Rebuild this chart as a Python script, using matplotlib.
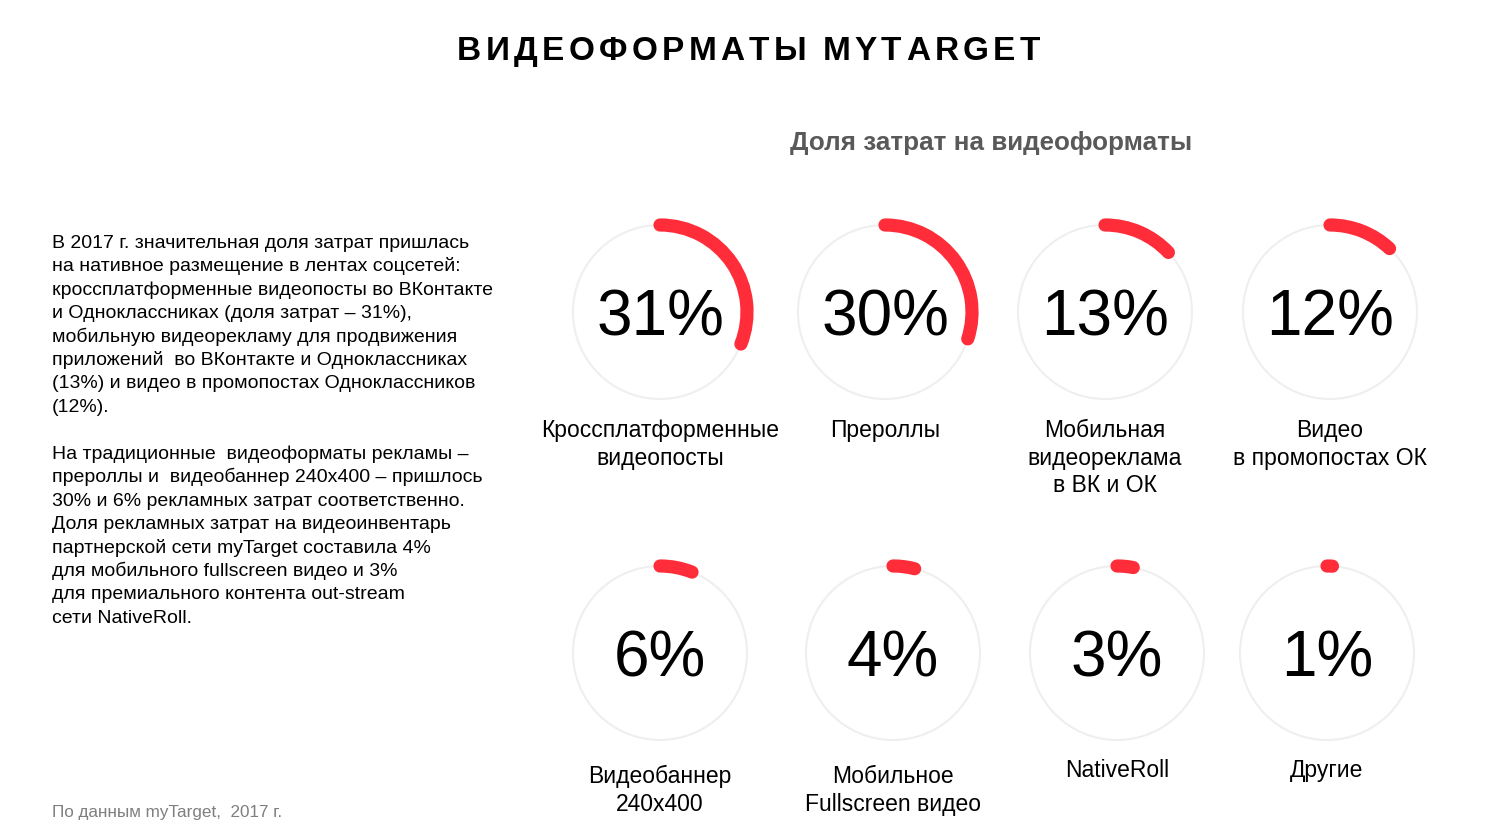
# Доля затрат на видеоформаты myTarget: кольцевые индикаторы

import matplotlib.pyplot as plt
from matplotlib.patches import Arc, Circle

plt.rcParams['font.family'] = ['Liberation Sans', 'DejaVu Sans']

# Данные
shares = [31, 30, 13, 12, 6, 4, 3, 1]
labels = ["Кроссплатформенные\nвидеопосты", "Прероллы",
          "Мобильная\nвидеореклама\nв ВК и ОК", "Видео\nв промопостах ОК",
          "Видеобаннер\n240x400", "Мобильное\nFullscreen видео",
          "NativeRoll", "Другие"]

title = "ВИДЕОФОРМАТЫ MYTARGET"
subtitle = "Доля затрат на видеоформаты"
footer = "По данным myTarget,  2017 г."
para1 = ["В 2017 г. значительная доля затрат пришлась",
         "на нативное размещение в лентах соцсетей:",
         "кроссплатформенные видеопосты во ВКонтакте",
         "и Одноклассниках (доля затрат – 31%),",
         "мобильную видеорекламу для продвижения",
         "приложений  во ВКонтакте и Одноклассниках",
         "(13%) и видео в промопостах Одноклассников",
         "(12%)."]
para2 = ["На традиционные  видеоформаты рекламы –",
         "прероллы и  видеобаннер 240x400 – пришлось",
         "30% и 6% рекламных затрат соответственно.",
         "Доля рекламных затрат на видеоинвентарь",
         "партнерской сети myTarget составила 4%",
         "для мобильного fullscreen видео и 3%",
         "для премиального контента out-stream",
         "сети NativeRoll."]

W, H = 1485, 838
RED = '#ff2d3a'

fig = plt.figure(figsize=(W / 100, H / 100), dpi=100)
ax = fig.add_axes([0, 0, 1, 1])
ax.set_xlim(0, W)
ax.set_ylim(0, H)
ax.axis('off')


def Y(py):
    # пиксели сверху -> координаты снизу
    return H - py


# заголовок с разрядкой
fig.canvas.draw()
rend = fig.canvas.get_renderer()
tw = []
for ch in title:
    t = ax.text(0, 0, ch if ch != ' ' else 'I', fontsize=24, fontweight='bold')
    bb = t.get_window_extent(renderer=rend)
    tw.append(bb.width * (0.8 if ch == ' ' else 1.0))
    t.remove()
left, right = 457, 1040
gap = (right - left - sum(tw)) / (len(title) - 1)
x = left
for ch, w in zip(title, tw):
    if ch != ' ':
        ax.text(x, Y(60), ch, fontsize=24, fontweight='bold', color='black',
                ha='left', va='baseline')
    x += w + gap

ax.text(991, Y(143), subtitle, fontsize=18.7, fontweight='bold', color='#595959',
        ha='center', va='center')

# текст слева
for i, line in enumerate(para1):
    ax.text(52, Y(248 + i * 23.4), line, fontsize=14, ha='left', va='baseline')
for i, line in enumerate(para2):
    ax.text(52, Y(459 + i * 23.4), line, fontsize=14, ha='left', va='baseline')

ax.text(52, Y(817), footer, fontsize=12.3, color='#7f7f7f', ha='left', va='baseline')

# индикаторы
centers = [(660, 312), (885, 312), (1105, 312), (1330, 312),
           (660, 653), (893, 653), (1117, 653), (1327, 653)]
label_top = [437, 437, 437, 437, 783, 783, 777, 777]
R = 87
for p, lab, (cx, cy), ly in zip(shares, labels, centers, label_top):
    ax.add_patch(Circle((cx, Y(cy)), R, fill=False, edgecolor='#efefef', lw=1.5))
    arc = Arc((cx, Y(cy)), 2 * R, 2 * R, theta1=90 - 360 * p / 100, theta2=90,
              color=RED, lw=9.5)
    arc.set_capstyle('round')
    ax.add_patch(arc)
    ax.text(cx, Y(cy + 23), f"{p}%", fontsize=46, ha='center', va='baseline')
    for j, s in enumerate(lab.split('\n')):
        ax.text(cx, Y(ly + j * 27.5), s, fontsize=16.5, ha='center', va='baseline')

fig.savefig('out.png', dpi=100)
